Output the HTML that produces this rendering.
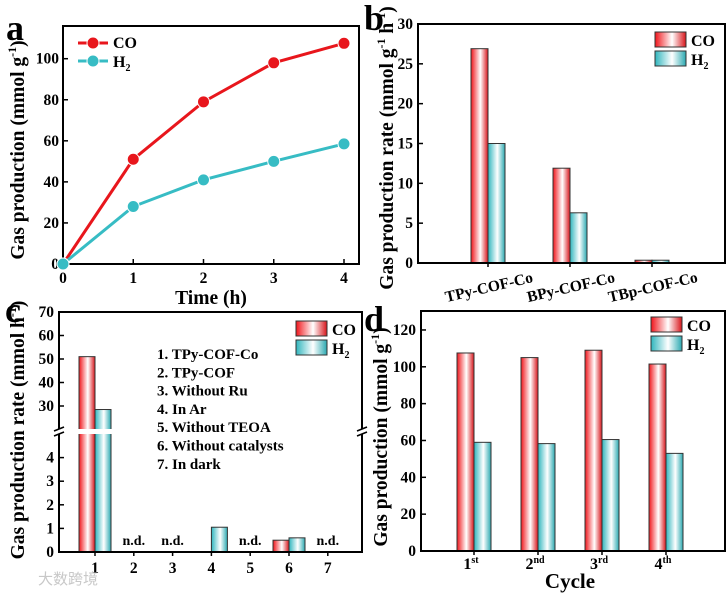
<!DOCTYPE html>
<html><head><meta charset="utf-8"><style>
html,body{margin:0;padding:0;background:#fff;}
svg{display:block;font-family:"Liberation Serif","Noto Serif CJK SC",serif;font-weight:bold;}
</style></head><body>
<svg id="fig" width="727" height="594" viewBox="0 0 727 594" xmlns="http://www.w3.org/2000/svg">
<defs>
<linearGradient id="gr" x1="0" x2="1" y1="0" y2="0"><stop offset="0" stop-color="#f0141a"/><stop offset="0.55" stop-color="#ffffff"/><stop offset="1" stop-color="#d8141a"/></linearGradient>
<linearGradient id="gc" x1="0" x2="1" y1="0" y2="0"><stop offset="0" stop-color="#2fb5bd"/><stop offset="0.55" stop-color="#ffffff"/><stop offset="1" stop-color="#2aa9b1"/></linearGradient>
</defs>
</svg>
<script>
// Panel a data
const aTimes=[0,1,2,3,4];
const aCO=[0,51,79,98,107.5];
const aH2=[0,28,41,50,58.5];
const aYTicks=[0,20,40,60,80,100];
// Panel b data
const bCats=["TPy-COF-Co","BPy-COF-Co","TBp-COF-Co"];
const bCO=[26.9,11.9,0.35];
const bH2=[15,6.3,0.35];
const bYTicks=[0,5,10,15,20,25,30];
// Panel c data
const cCats=["1","2","3","4","5","6","7"];
const cCO=[51,null,null,0,null,0.5,null];
const cH2=[28.5,null,null,1.05,null,0.6,null];
const cYTicksLow=[0,1,2,3,4];
const cYTicksHigh=[30,40,50,60,70];
const cList=["1. TPy-COF-Co","2. TPy-COF","3. Without Ru","4. In Ar","5. Without TEOA","6. Without catalysts","7. In dark"];
// Panel d data
const dCats=["1","2","3","4"];
const dSup=["st","nd","rd","th"];
const dCO=[107.5,105,109,101.5];
const dH2=[59,58.3,60.5,53];
const dYTicks=[0,20,40,60,80,100,120];

const svg=document.getElementById('fig');
const NS="http://www.w3.org/2000/svg";
const TF=15.5, AF=19.5;
function el(tag,attrs,parent){const e=document.createElementNS(NS,tag);for(const k in attrs)e.setAttribute(k,attrs[k]);(parent||svg).appendChild(e);return e;}
function txt(s,attrs,parent){const e=el('text',attrs,parent);e.textContent=s;return e;}
function frame(x0,y0,x1,y1,name){const r=el('rect',{x:x0,y:y0,width:x1-x0,height:y1-y0,fill:'none',stroke:'#000','stroke-width':2});}
function legendBoxes(x,y,name){
 const g=el('g',{});
 el('rect',{x:x,y:y,width:31,height:15,fill:'url(#gr)',stroke:'#333','stroke-width':1},g);
 txt('CO',{x:x+36,y:y+14,'font-size':16},g);
 el('rect',{x:x,y:y+19,width:31,height:15,fill:'url(#gc)',stroke:'#333','stroke-width':1},g);
 const t=txt('H',{x:x+36,y:y+33,'font-size':16},g);
 const s=el('tspan',{'font-size':10,dy:4},t);s.textContent='2';
}
function ytitle(s,cx,cy,name,tail){
 const yl=txt(s,{transform:`translate(${cx},${cy}) rotate(-90)`,'font-size':AF,'text-anchor':'middle'});
 
 tail.forEach(([t,sup])=>{const sp=el('tspan',sup?{'font-size':12,dy:-8}:{dy:8},yl);sp.textContent=t;});
}

// ===== Panel a =====
{
 const X0=63,X1=359,Y0=26,Y1=264;
 const xs=v=>63+v*70.25, ys=v=>264-v*2.053;
 txt('a',{x:6,y:40,'font-size':36});
 frame(X0,Y0,X1,Y1,'panel-a-frame');
 aYTicks.forEach(v=>{const y=ys(v);el('line',{x1:X0,x2:X0+5,y1:y,y2:y,stroke:'#000','stroke-width':1.5});
  const t=txt(v,{x:X0-4,y:y+5,'font-size':TF,'text-anchor':'end'});});
 aTimes.forEach(v=>{const x=xs(v);el('line',{x1:x,x2:x,y1:Y1,y2:Y1-5,stroke:'#000','stroke-width':1.5});
  const t=txt(v,{x:x,y:Y1+19,'font-size':TF,'text-anchor':'middle'});});
 ytitle('Gas production (mmol g',24,150,'a-y-axis-title',[['-1',1],[')',0]]);
 const xl=txt('Time (h)',{x:211,y:304,'font-size':AF,'text-anchor':'middle'});
 [[aCO,'#e8161c','co'],[aH2,'#37bcc4','h2']].forEach(([d,c,n])=>{
  const p=el('polyline',{points:aTimes.map((t,i)=>xs(t)+','+ys(d[i])).join(' '),fill:'none',stroke:c,'stroke-width':3});
  
  d.forEach((v,i)=>{const m=el('circle',{cx:xs(aTimes[i]),cy:ys(v),r:6,fill:c,stroke:'#fff','stroke-width':1});
   });
 });
 const lg=el('g',{});
 el('line',{x1:78,x2:108,y1:43,y2:43,stroke:'#e8161c','stroke-width':3},lg);el('circle',{cx:93,cy:43,r:6,fill:'#e8161c',stroke:'#fff'},lg);
 txt('CO',{x:113,y:48,'font-size':16},lg);
 el('line',{x1:78,x2:108,y1:61,y2:61,stroke:'#37bcc4','stroke-width':3},lg);el('circle',{cx:93,cy:61,r:6,fill:'#37bcc4',stroke:'#fff'},lg);
 const h=txt('H',{x:113,y:67,'font-size':16},lg);const s=el('tspan',{'font-size':10,dy:4},h);s.textContent='2';
}

// ===== Panel b =====
{
 const X0=418,X1=725,Y0=24,Y1=263;
 const ys=v=>263-v*7.967, xc=i=>488+i*82, bw=17;
 txt('b',{x:364,y:30,'font-size':36});
 bYTicks.forEach(v=>{const y=ys(v);el('line',{x1:X0,x2:X0+5,y1:y,y2:y,stroke:'#000','stroke-width':1.5});
  const t=txt(v,{x:X0-5,y:y+5,'font-size':TF,'text-anchor':'end'});});
 bCats.forEach((c,i)=>{
  const r1=el('rect',{x:xc(i)-bw,y:ys(bCO[i]),width:bw,height:ys(0)-ys(bCO[i]),fill:'url(#gr)',stroke:'#333','stroke-width':1});
  
  const r2=el('rect',{x:xc(i),y:ys(bH2[i]),width:bw,height:ys(0)-ys(bH2[i]),fill:'url(#gc)',stroke:'#333','stroke-width':1});
  
  el('line',{x1:xc(i),x2:xc(i),y1:Y1,y2:Y1+4,stroke:'#000','stroke-width':1.5});
  const t=txt(c,{transform:`translate(${xc(i)+2},${Y1+29}) rotate(-13)`,'font-size':TF,'text-anchor':'middle'});
  
 });
 frame(X0,Y0,X1,Y1,'panel-b-frame');
 ytitle('Gas production rate (mmol g',393,148,'b-y-axis-title',[['-1',1],[' h',0],['-1',1],[')',0]]);
 legendBoxes(655,32,'b-legend');
}

// ===== Panel c =====
{
 const X0=59,X1=362,Y0=312,Y1=552,BR=432;
 const ys=v=> v<=5 ? 552-v*23.6 : 406-(v-30)*2.35;
 const xc=i=>95+i*38.8, bw=16;
 txt('c',{x:5,y:322,'font-size':36});
 cYTicksLow.concat(cYTicksHigh).forEach(v=>{const y=ys(v);el('line',{x1:X0,x2:X0+5,y1:y,y2:y,stroke:'#000','stroke-width':1.5});
  const t=txt(v,{x:X0-5,y:y+5,'font-size':TF,'text-anchor':'end'});});
 cCats.forEach((c,i)=>{
  [[cCO[i],xc(i)-bw,'url(#gr)','co'],[cH2[i],xc(i),'url(#gc)','h2']].forEach(([v,x,f,n])=>{
   if(v===null||v===0)return;
   const r=el('rect',{x:x,y:ys(v),width:bw,height:ys(0)-ys(v),fill:f,stroke:'#333','stroke-width':1});
   
  });
  if(cCO[i]===null){const t=txt('n.d.',{x:xc(i),y:545,'font-size':14,'text-anchor':'middle'});}
  el('line',{x1:xc(i),x2:xc(i),y1:Y1,y2:Y1+4,stroke:'#000','stroke-width':1.5});
  const t=txt(c,{x:xc(i),y:Y1+21,'font-size':TF,'text-anchor':'middle'});
 });
 frame(X0,Y0,X1,Y1,'panel-c-frame');
 const br=el('g',{});
 el('rect',{x:50,y:BR-3,width:70,height:5,fill:'#fff'},br);
 el('rect',{x:355,y:BR-3,width:14,height:5,fill:'#fff'},br);
 [X0,X1].forEach(x=>{el('line',{x1:x-5,x2:x+5,y1:BR-1,y2:BR-5,stroke:'#000','stroke-width':1.5},br);el('line',{x1:x-5,x2:x+5,y1:BR+4,y2:BR,stroke:'#000','stroke-width':1.5},br);});
 ytitle('Gas production rate (mmol h',24,430,'c-y-axis-title',[['-1',1],[')',0]]);
 cList.forEach((s,i)=>{const t=txt(s,{x:157,y:359+i*18.3,'font-size':15});});
 legendBoxes(296,321,'c-legend');
 const w=txt('大数跨境',{x:38,y:584,'font-size':15,fill:'#c8c8c8','font-family':'"Noto Sans CJK SC",sans-serif','font-weight':'normal'});
 
}

// ===== Panel d =====
{
 const X0=421,X1=725,Y0=311,Y1=551;
 const ys=v=>551-v*1.842, xc=i=>474+i*64, bw=17;
 txt('d',{x:364,y:331,'font-size':36});
 dYTicks.forEach(v=>{const y=ys(v);el('line',{x1:X0,x2:X0+5,y1:y,y2:y,stroke:'#000','stroke-width':1.5});
  const t=txt(v,{x:X0-5,y:y+5,'font-size':TF,'text-anchor':'end'});});
 dCats.forEach((c,i)=>{
  const r1=el('rect',{x:xc(i)-bw,y:ys(dCO[i]),width:bw,height:ys(0)-ys(dCO[i]),fill:'url(#gr)',stroke:'#333','stroke-width':1});
  
  const r2=el('rect',{x:xc(i),y:ys(dH2[i]),width:bw,height:ys(0)-ys(dH2[i]),fill:'url(#gc)',stroke:'#333','stroke-width':1});
  
  el('line',{x1:xc(i),x2:xc(i),y1:Y1,y2:Y1+4,stroke:'#000','stroke-width':1.5});
  const t=txt(c,{x:xc(i)-3,y:Y1+18,'font-size':16,'text-anchor':'middle'});
  
  const s=el('tspan',{'font-size':10,dy:-6},t);s.textContent=dSup[i];
 });
 frame(X0,Y0,X1,Y1,'panel-d-frame');
 ytitle('Gas production (mmol g',387,437,'d-y-axis-title',[['-1',1],[')',0]]);
 const xl=txt('Cycle',{x:570,y:588,'font-size':21,'text-anchor':'middle'});
 legendBoxes(651,317,'d-legend');
}
</script>
</body></html>
